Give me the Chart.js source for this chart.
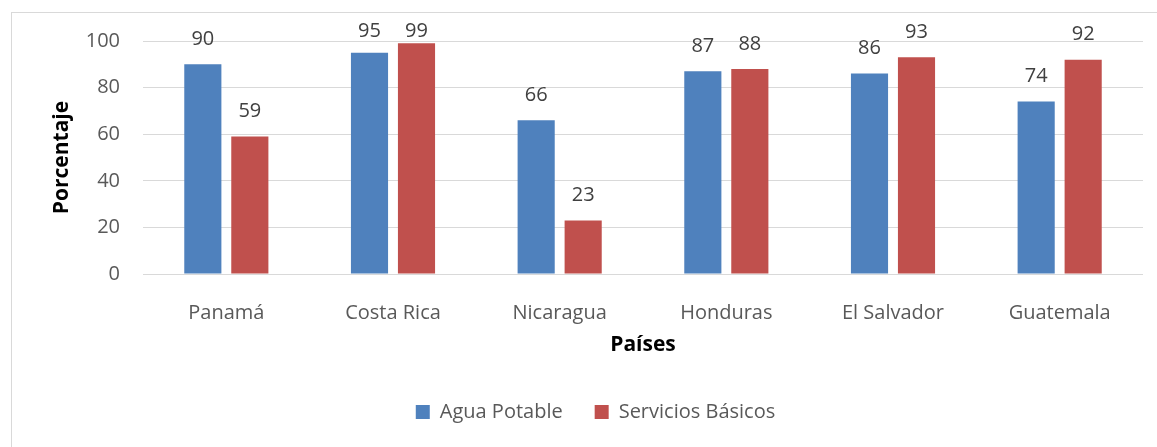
<!DOCTYPE html>
<html>
<head>
<meta charset="utf-8">
<script src="https://cdn.jsdelivr.net/npm/chart.js@4.4.0/dist/chart.umd.min.js"></script>
<style>
  html, body { margin: 0; padding: 0; background: #fff; overflow: hidden; }
  #wrap { position: relative; width: 1157px; height: 447px; }
  #frame { position: absolute; left: 11px; top: 12px; width: 1200px; height: 500px;
           border: 1px solid #d9d9d9; pointer-events: none; }
</style>
</head>
<body>
<div id="wrap">
  <canvas id="chart" width="1157" height="447"></canvas>
  <div id="frame"></div>
</div>
<script>
// Datos
const paises = ['Panamá', 'Costa Rica', 'Nicaragua', 'Honduras', 'El Salvador', 'Guatemala'];
const aguaPotable = [90, 95, 66, 87, 86, 74];
const serviciosBasicos = [59, 99, 23, 88, 93, 92];
const yTicks = [0, 20, 40, 60, 80, 100];

const FONT = "'Open Sans', sans-serif";

// etiquetas de valor encima de cada barra (no suben mas alla del borde)
const valueLabels = {
  id: 'valueLabels',
  afterDatasetsDraw(chart) {
    const ctx = chart.ctx;
    ctx.save();
    ctx.font = '20px ' + FONT;
    ctx.fillStyle = '#404040';
    ctx.textAlign = 'center';
    ctx.textBaseline = 'middle';
    chart.data.datasets.forEach((ds, i) => {
      chart.getDatasetMeta(i).data.forEach((bar, j) => {
        const y = Math.max(bar.y - 25, chart.chartArea.top - 10);
        ctx.fillText(ds.data[j], bar.x, y);
      });
    });
    ctx.restore();
  }
};

const ctx = document.getElementById('chart').getContext('2d');
const myChart = new Chart(ctx, {
  type: 'bar',
  data: {
    labels: paises,
    datasets: [{
      label: 'Agua Potable',
      data: aguaPotable,
      backgroundColor: '#4f81bd',
      categoryPercentage: 0.564,
      barPercentage: 0.79
    }, {
      label: 'Servicios Básicos',
      data: serviciosBasicos,
      backgroundColor: '#c0504d',
      categoryPercentage: 0.564,
      barPercentage: 0.79
    }]
  },
  options: {
    responsive: false,
    animation: false,
    layout: {
      padding: { left: 48, right: 14, top: 41, bottom: 15 }
    },
    plugins: {
      tooltip: { enabled: false },
      legend: {
        position: 'bottom',
        labels: {
          boxWidth: 14,
          boxHeight: 14,
          padding: 32,
          color: '#595959',
          font: { family: FONT, size: 20 }
        }
      }
    },
    scales: {
      x: {
        grid: { display: false },
        border: { display: false },
        ticks: {
          color: '#595959',
          padding: 19,
          font: { family: FONT, size: 20 }
        },
        title: {
          display: true,
          text: 'Países',
          color: '#000',
          padding: { top: 0, bottom: 12 },
          font: { family: FONT, size: 21, weight: 'bold' }
        },
        afterFit(scale) { scale.height = 96; }
      },
      y: {
        min: 0,
        max: 100,
        afterBuildTicks(scale) { scale.ticks = yTicks.map(v => ({ value: v })); },
        grid: { color: '#d9d9d9', drawTicks: false },
        border: { display: false },
        ticks: {
          color: '#595959',
          padding: 23,
          font: { family: FONT, size: 20 }
        },
        title: {
          display: true,
          text: 'Porcentaje',
          color: '#000',
          padding: { top: 1, bottom: 0 },
          font: { family: FONT, size: 21, weight: 'bold' }
        },
        afterFit(scale) { scale.width = 95; }
      }
    }
  },
  plugins: [valueLabels]
});
</script>
</body>
</html>
